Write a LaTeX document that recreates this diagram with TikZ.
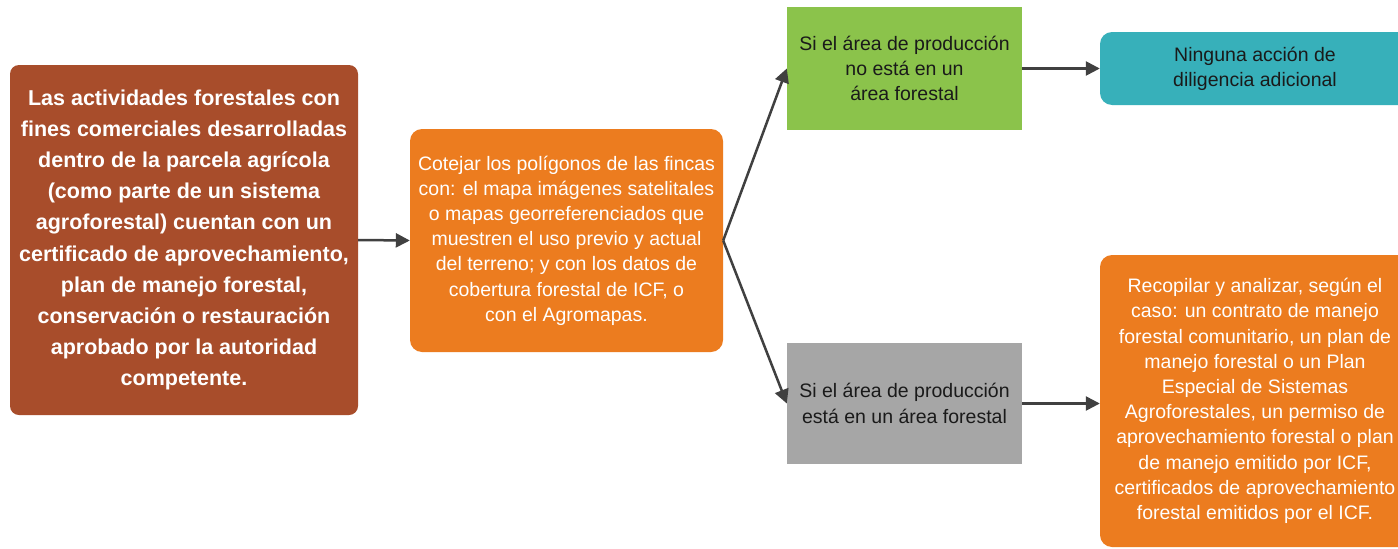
\documentclass[tikz,border=0pt]{standalone}
\usepackage{fontspec}
\setmainfont{Liberation Sans}
\usetikzlibrary{arrows.meta}
\definecolor{brownbox}{HTML}{A84D2B}
\definecolor{orangebox}{HTML}{EC7C1F}
\definecolor{greenbox}{HTML}{8BC34B}
\definecolor{graybox}{HTML}{A6A6A6}
\definecolor{tealbox}{HTML}{37B0BA}
\definecolor{arrowgray}{HTML}{404040}
\definecolor{darktext}{HTML}{1A1A1A}
\tikzset{
  box/.style={rectangle, inner sep=0pt, align=center, draw=none},
  regtext/.style={font=\fontsize{19.5}{25.2}\selectfont},
  boldtext/.style={font=\fontsize{21.5}{31.2}\selectfont\bfseries},
  conn/.style={draw=arrowgray, line width=2.5pt, -{Triangle[length=14pt,width=14pt]}},
}
\begin{document}
\begin{tikzpicture}[x=1pt,y=-1pt]
\clip (0,0) rectangle (1398,549);
\fill[white] (0,0) rectangle (1398,549);

\node[box, boldtext, fill=brownbox, text=white, rounded corners=9pt,
      minimum width=348pt, minimum height=350pt] (A) at (184,240)
 {Las actividades forestales con\\fines comerciales desarrolladas\\dentro de la parcela agrícola\\(como parte de un sistema\\agroforestal) cuentan con un\\certificado de aprovechamiento,\\plan de manejo forestal,\\conservación o restauración\\aprobado por la autoridad\\competente.};

\node[box, regtext, fill=orangebox, text=white, rounded corners=12pt,
      minimum width=313pt, minimum height=223pt] (B) at (566.5,240.5)
 {Cotejar los polígonos de las fincas\\con: el mapa imágenes satelitales\\o mapas georreferenciados que\\muestren el uso previo y actual\\del terreno; y con los datos de\\cobertura forestal de ICF, o\\con el Agromapas.};

\node[box, regtext, fill=greenbox, text=darktext,
      minimum width=235pt, minimum height=123pt] (C) at (904.5,68.5)
 {Si el área de producción\\no está en un\\área forestal};

\node[box, regtext, fill=graybox, text=darktext,
      minimum width=235pt, minimum height=121pt] (D) at (904.5,403.5)
 {Si el área de producción\\está en un área forestal};

\node[box, regtext, fill=tealbox, text=darktext, rounded corners=12pt,
      minimum width=310pt, minimum height=73pt] (E) at (1255,68.5)
 {Ninguna acción de\\diligencia adicional};

\node[box, regtext, fill=orangebox, text=white, rounded corners=12pt,
      minimum width=310pt, minimum height=292pt] (F) at (1255,401)
 {Recopilar y analizar, según el\\caso: un contrato de manejo\\forestal comunitario, un plan de\\manejo forestal o un Plan\\Especial de Sistemas\\Agroforestales, un permiso de\\aprovechamiento forestal o plan\\de manejo emitido por ICF,\\certificados de aprovechamiento\\forestal emitidos por el ICF.};

\draw[conn] (A.east) -- (B.west);
\draw[conn] (B.east) -- (C.west);
\draw[conn] (B.east) -- (D.west);
\draw[conn] (C.east) -- (E.west);
\draw[conn] (D.east) -- (D.east -| F.west);
\end{tikzpicture}
\end{document}
